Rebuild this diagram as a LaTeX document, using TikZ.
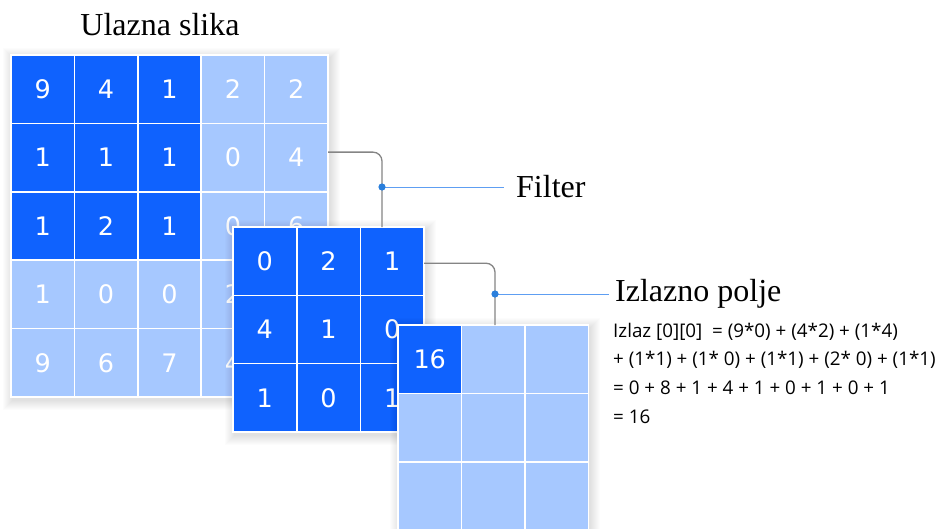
\documentclass[tikz,border=0pt]{standalone}
\usepackage{fontspec}
\setmainfont{Liberation Serif}
\newfontfamily\numfont{DejaVu Sans}
\newfontfamily\eqfont{Open Sans}
\usetikzlibrary{calc}
\definecolor{dblue}{HTML}{0F62FE}
\definecolor{lblue}{HTML}{A6C8FF}
\definecolor{connc}{HTML}{858585}
\definecolor{labc}{HTML}{5E9EF2}
\definecolor{dotc}{HTML}{2A7FDC}
\tikzset{
  cell/.style={draw=white, line width=1.6pt, minimum width=63.4pt, minimum height=68.4pt,
    inner sep=0pt, outer sep=0pt, text=white, anchor=north west,
    font=\numfont\fontsize{25.5}{25.5}\selectfont},
  connline/.style={draw=connc, line width=1.3pt, rounded corners=9pt},
  labline/.style={draw=labc, line width=1pt},
  dotmark/.style={fill=dotc},
  bigtitle/.style={font=\fontsize{32}{32}\selectfont, inner sep=0pt},
  eqtext/.style={font=\eqfont\fontsize{18.8}{28.6}\selectfont, align=left, inner sep=0pt, anchor=base west}
}
\newcommand\gridshadow[4]{%
  \foreach \i in {1,...,10}{\fill[black,opacity=0.011] ({#1-\i+2},{#2-\i+3}) rectangle ({#3+\i+2},{#4+\i+3});}}
\begin{document}
\begin{tikzpicture}[x=1pt,y=-1pt]
\useasboundingbox (0,0) rectangle (947,528);
\clip (0,0) rectangle (947,528);
\fill[white] (0,0) rectangle (947,528);

% input image
\gridshadow{11}{55}{328}{397}
\foreach [count=\r from 0] \rowvals in {{9,4,1,2,2},{1,1,1,0,4},{1,2,1,0,6},{1,0,0,2,{}},{9,6,7,4,{}}} {
  \foreach [count=\c from 0] \v in \rowvals {
    \edef\cc{lblue}
    \ifnum\r<3 \ifnum\c<3 \edef\cc{dblue}\fi\fi
    \node[cell, fill=\cc] (in-\r-\c) at ({11+63.4*\c},{55+68.4*\r}) {\v};
  }
}
\node[bigtitle] (intitle) at (160,25) {Ulazna slika};

% filter
\gridshadow{233}{227}{424}{432}
\foreach [count=\r from 0] \rowvals in {{0,2,1},{4,1,0},{1,0,1}} {
  \foreach [count=\c from 0] \v in \rowvals {
    \node[cell, fill=dblue, minimum width=63.7pt, minimum height=68.3pt] (f-\r-\c) at ({233+63.7*\c},{227+68.3*\r}) {\v};
  }
}

% output
\gridshadow{398}{325}{588}{530}
\foreach [count=\r from 0] \rowvals in {{16,{},{}},{{},{},{}},{{},{},{}}} {
  \foreach [count=\c from 0] \v in \rowvals {
    \edef\cc{lblue}
    \ifnum\r=0 \ifnum\c=0 \edef\cc{dblue}\fi\fi
    \node[cell, fill=\cc, minimum width=63.5pt, minimum height=68.5pt] (out-\r-\c) at ({398+63.5*\c},{325+68.5*\r}) {\v};
  }
}

% connectors
\coordinate (fdot) at (382,187);
\coordinate (c1s) at ($(in-1-4.north east)!0.42!(in-1-4.south east)$);
\draw[connline] (c1s) -| (fdot) -- (fdot |- f-0-2.north);
\node[bigtitle, anchor=west, inner xsep=12pt] (flabel) at (504,187) {Filter};
\draw[labline] (fdot) -- (flabel.west);
\fill[dotmark] (fdot) circle (3.6pt);

\coordinate (odot) at (495,294);
\coordinate (c2s) at ($(f-0-2.north east)!0.53!(f-0-2.south east)$);
\draw[connline] (c2s) -| (odot) -- (odot |- out-0-1.north);
\node[bigtitle, anchor=west, inner xsep=6pt] (olabel) at (609,294) {Izlazno polje};
\draw[labline] (odot) -- (olabel.west);
\fill[dotmark] (odot) circle (3.6pt);

\node[eqtext] (eq) at (613,423) {Izlaz [0][0]\ \ = (9*0) + (4*2) + (1*4)\\
+ (1*1) + (1* 0) + (1*1) + (2* 0) + (1*1)\\
= 0 + 8 + 1 + 4 + 1 + 0 + 1 + 0 + 1\\
= 16};
\end{tikzpicture}
\end{document}
